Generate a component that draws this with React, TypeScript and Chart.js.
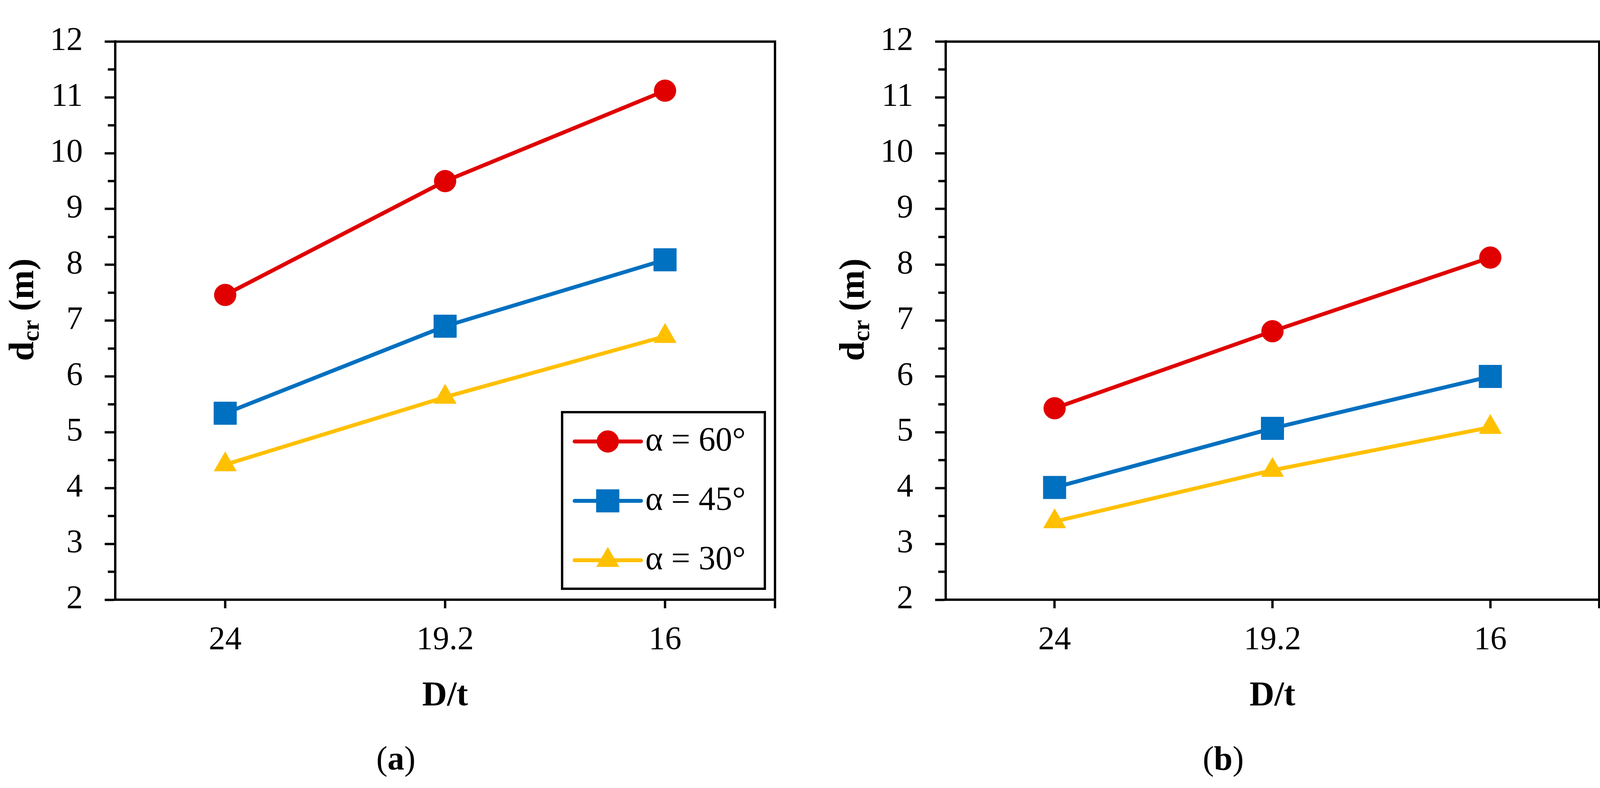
import React, { useEffect, useRef } from 'react';
import Chart from 'chart.js/auto';
import { drawPoint } from 'chart.js/helpers';

// categories (D/t) and series values
const categories = ['24', '19.2', '16'];
const seriesLabels = ['α = 60°', 'α = 45°', 'α = 30°'];

const a60 = [7.46, 9.5, 11.12];
const a45 = [5.34, 6.9, 8.09];
const a30 = [4.42, 5.63, 6.72];

const b60 = [5.43, 6.81, 8.13];
const b45 = [4.01, 5.07, 6.0];
const b30 = [3.4, 4.32, 5.09];

const yMin = 2;
const yMax = 12;
const yStep = 1;

const colors = ['#E00000', '#0070C0', '#FFC000'];
const markers = ['circle', 'rect', 'triangle'];
const markerRadius = [28, 41, 33];

const SERIF = '"Liberation Serif", "Times New Roman", serif';
Chart.defaults.font.family = SERIF;

const W = 2068;
const H = 2017;

const decorPlugin = (tag: string, showLegend: boolean) => ({
  id: 'decor',
  afterDatasetsDraw(chart: any) {
    if (!showLegend) return;
    const { ctx, chartArea: ca } = chart;
    const bw = 519;
    const bh = 452;
    const bx = ca.right - 26 - bw;
    const by = ca.bottom - 28 - bh;
    ctx.save();
    ctx.fillStyle = '#fff';
    ctx.fillRect(bx, by, bw, bh);
    ctx.strokeStyle = '#000';
    ctx.lineWidth = 6;
    ctx.strokeRect(bx, by, bw, bh);
    chart.data.datasets.forEach((ds: any, i: number) => {
      const cy = by + 75 + i * 152;
      ctx.strokeStyle = ds.borderColor;
      ctx.lineWidth = ds.borderWidth;
      ctx.lineCap = 'round';
      ctx.beginPath();
      ctx.moveTo(bx + 32, cy);
      ctx.lineTo(bx + 202, cy);
      ctx.stroke();
      ctx.fillStyle = ds.backgroundColor;
      ctx.lineWidth = 1;
      drawPoint(ctx, { pointStyle: ds.pointStyle, radius: ds.pointRadius, rotation: 0, borderWidth: 1 } as any, bx + 117, cy);
      ctx.fillStyle = '#000';
      ctx.font = `86px ${SERIF}`;
      ctx.textAlign = 'left';
      ctx.textBaseline = 'middle';
      ctx.fillText(ds.label, bx + 213, cy);
    });
    ctx.restore();
  },
  afterDraw(chart: any) {
    const { ctx, chartArea: ca, scales } = chart;
    const ys = scales.y;
    ctx.save();
    // top / right frame, minor ticks, right-edge tick
    ctx.strokeStyle = '#000';
    ctx.lineWidth = 6;
    ctx.lineCap = 'butt';
    ctx.beginPath();
    ctx.moveTo(ca.left, ca.top);
    ctx.lineTo(ca.right + 3, ca.top);
    ctx.moveTo(ca.right, ca.top);
    ctx.lineTo(ca.right, ca.bottom + 22);
    for (let v = yMin + yStep / 2; v < yMax; v += yStep) {
      const py = ys.getPixelForValue(v);
      ctx.moveTo(ca.left - 19, py);
      ctx.lineTo(ca.left, py);
    }
    ctx.stroke();

    ctx.fillStyle = '#000';
    const cx = (ca.left + ca.right) / 2;

    // y title: d_cr (m)
    const mainFont = `bold 90px ${SERIF}`;
    const subFont = `bold 62px ${SERIF}`;
    ctx.font = mainFont;
    const wd = ctx.measureText('d').width;
    const wm = ctx.measureText(' (m)').width;
    ctx.font = subFont;
    const wcr = ctx.measureText('cr').width;
    const total = wd + wcr + wm;
    ctx.save();
    ctx.translate(ca.left - 210, (ca.top + ca.bottom) / 2 - 28);
    ctx.rotate(-Math.PI / 2);
    ctx.textAlign = 'left';
    ctx.textBaseline = 'alphabetic';
    let x0 = -total / 2;
    ctx.font = mainFont;
    ctx.fillText('d', x0, 0);
    x0 += wd;
    ctx.font = subFont;
    ctx.fillText('cr', x0, 14);
    x0 += wcr;
    ctx.font = mainFont;
    ctx.fillText(' (m)', x0, 0);
    ctx.restore();

    // x title
    ctx.font = `bold 88px ${SERIF}`;
    ctx.textAlign = 'center';
    ctx.textBaseline = 'alphabetic';
    ctx.fillText('D/t', cx, 1805);

    // panel tag (a)/(b)
    const normal = `86px ${SERIF}`;
    const bold = `bold 86px ${SERIF}`;
    ctx.font = normal;
    const wp = ctx.measureText('(').width;
    const wq = ctx.measureText(')').width;
    ctx.font = bold;
    const wt = ctx.measureText(tag).width;
    let tx = cx - 126 - (wp + wt + wq) / 2;
    ctx.textAlign = 'left';
    ctx.font = normal;
    ctx.fillText('(', tx, 1970);
    tx += wp;
    ctx.font = bold;
    ctx.fillText(tag, tx, 1970);
    tx += wt;
    ctx.font = normal;
    ctx.fillText(')', tx, 1970);
    ctx.restore();
  },
});

type PanelProps = {
  left: number;
  plotLeft: number;
  plotRight: number;
  series: number[][];
  tag: string;
  showLegend: boolean;
};

const Panel = ({ left, plotLeft, plotRight, series, tag, showLegend }: PanelProps) => {
  const canvasRef = useRef<HTMLCanvasElement>(null);

  useEffect(() => {
    if (!canvasRef.current) return;
    const chart = new Chart(canvasRef.current, {
      type: 'line',
      data: {
        labels: categories,
        datasets: series.map((values, i) => ({
          label: seriesLabels[i],
          data: values,
          borderColor: colors[i],
          backgroundColor: colors[i],
          borderWidth: 10,
          borderCapStyle: 'round',
          borderJoinStyle: 'round',
          tension: 0,
          pointStyle: markers[i],
          pointRadius: markerRadius[i],
          pointBorderWidth: 1,
          pointBorderColor: colors[i],
          pointBackgroundColor: colors[i],
          fill: false,
        })),
      },
      plugins: [decorPlugin(tag, showLegend)],
      options: {
        animation: false,
        responsive: true,
        maintainAspectRatio: false,
        events: [],
        layout: { padding: { top: 61, right: W - plotRight, left: 0, bottom: 0 } },
        plugins: {
          legend: { display: false },
          tooltip: { enabled: false },
          title: { display: false },
        },
        scales: {
          x: {
            type: 'category',
            offset: true,
            afterFit: (scale: any) => {
              scale.height = H - 1535;
            },
            grid: {
              drawOnChartArea: false,
              drawTicks: true,
              tickLength: 22,
              tickWidth: 6,
              tickColor: '#000',
              offset: false,
            },
            border: { display: true, color: '#000', width: 6 },
            ticks: {
              color: '#000',
              font: { size: 84, family: SERIF },
              padding: 33,
              maxRotation: 0,
            },
          },
          y: {
            min: yMin,
            max: yMax,
            afterFit: (scale: any) => {
              scale.width = plotLeft;
            },
            grid: {
              drawOnChartArea: false,
              drawTicks: true,
              tickLength: 27,
              tickWidth: 6,
              tickColor: '#000',
            },
            border: { display: true, color: '#000', width: 6 },
            ticks: {
              stepSize: yStep,
              color: '#000',
              font: { size: 84, family: SERIF },
              padding: 56,
            },
          },
        },
      } as any,
    });
    return () => {
      chart.destroy();
    };
  }, []);

  return (
    <div style={{ position: 'absolute', left, top: 0, width: W, height: H }}>
      <canvas ref={canvasRef} />
    </div>
  );
};

export default function App() {
  return (
    <div style={{ position: 'absolute', left: 0, top: 0, width: 4136, height: H, background: '#fff', overflow: 'hidden' }}>
      <Panel left={0} plotLeft={295} plotRight={1984} series={[a60, a45, a30]} tag="a" showLegend={true} />
      <Panel left={W} plotLeft={2421 - W} plotRight={4108 - W} series={[b60, b45, b30]} tag="b" showLegend={false} />
    </div>
  );
}
